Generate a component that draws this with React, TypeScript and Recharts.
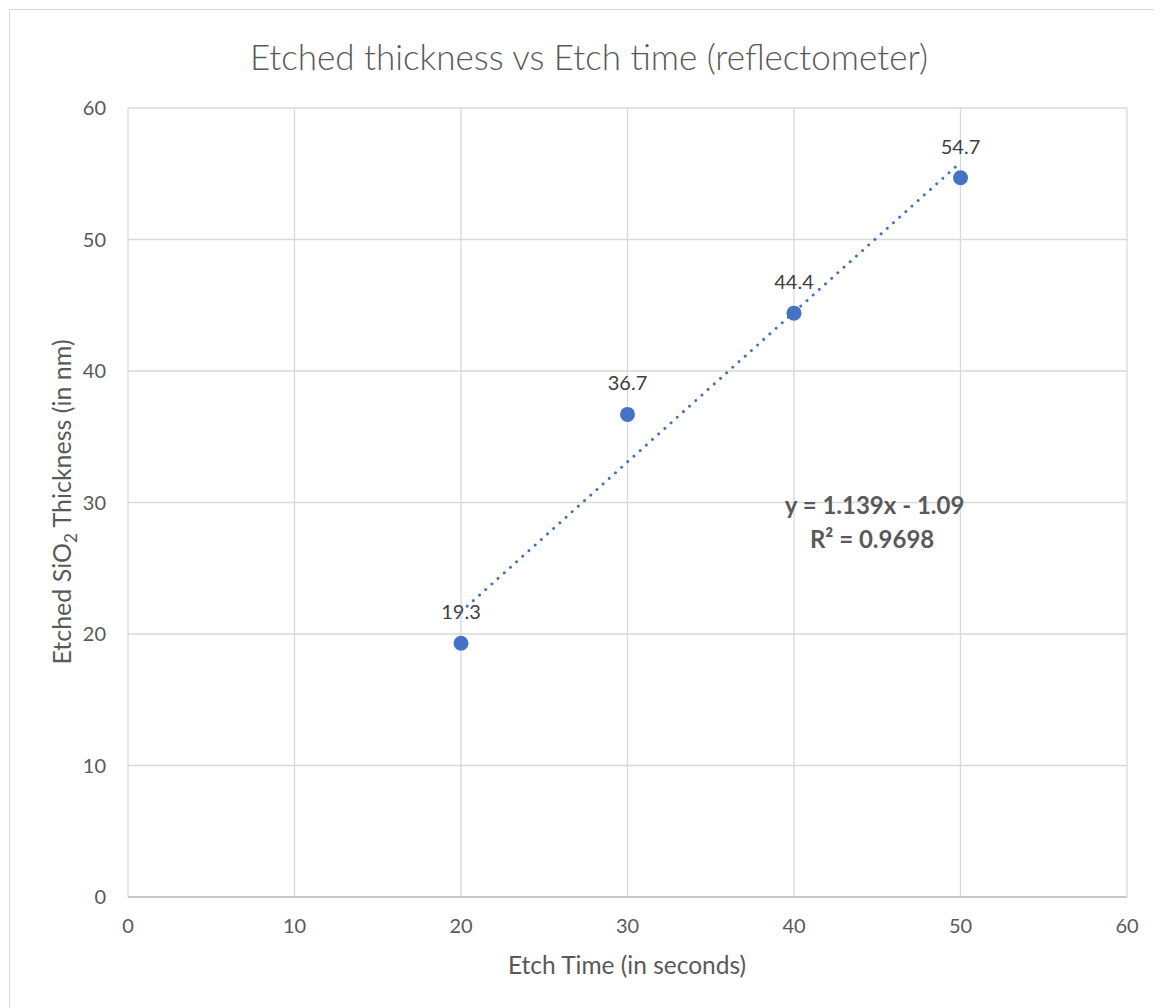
import React from "react"
import { ScatterChart, Scatter, XAxis, YAxis, CartesianGrid, ReferenceDot, Customized } from "recharts"

const etchTimes = [20, 30, 40, 50]
const thickness = [19.3, 36.7, 44.4, 54.7]
const axisTicks = [0, 10, 20, 30, 40, 50, 60]

// linear trendline as shown on the chart
const trendSlope = 1.139
const trendIntercept = -1.09
const trendR2 = 0.9698
const trendRange = [20, 50]
const equationAnchor = { x: 44.9, y: 28.5 }

const points = etchTimes.map((x, i) => ({ x, y: thickness[i] }))
const trendPoints = trendRange.map((x) => ({ x, y: trendSlope * x + trendIntercept }))

const FONT = "Lato, 'Open Sans', sans-serif"
const BLUE = "#4472C4"
const TEXT = "#595959"

const PointShape = (props: any) => {
  const { cx, cy, payload } = props
  return (
    <g>
      <circle cx={cx} cy={cy} r={7.5} fill={BLUE} />
      <text x={cx} y={cy - 24} textAnchor="middle" fontSize={20} fill="#404040" fontFamily={FONT}>
        {payload.y}
      </text>
    </g>
  )
}

const EquationLabel = (props: any) => {
  const { viewBox } = props
  const cx = viewBox.x + (viewBox.width || 0) / 2
  const cy = viewBox.y + (viewBox.height || 0) / 2
  return (
    <g fontFamily={FONT} fontWeight="bold" fontSize={24} fill={TEXT} textAnchor="middle">
      <text x={cx - 1} y={cy - 8}>
        {`y = ${trendSlope}x - ${Math.abs(trendIntercept)}`}
      </text>
      <text x={cx - 3.5} y={cy + 26}>
        {`R² = ${trendR2}`}
      </text>
    </g>
  )
}

const Titles = () => (
  <g fontFamily={FONT} fill={TEXT}>
    <text x={579} y={60} textAnchor="middle" fontSize={35} fontWeight={300}>
      Etched thickness vs Etch time (reflectometer)
    </text>
    <text x={617} y={964} textAnchor="middle" fontSize={24.5}>
      Etch Time (in seconds)
    </text>
    <text x={61} y={492} textAnchor="middle" fontSize={25} transform="rotate(-90 61 492)">
      Etched SiO<tspan fontSize={17} dy={6}>2</tspan>
      <tspan dy={-6}> Thickness (in nm)</tspan>
    </text>
  </g>
)

export default function App() {
  return (
    <div style={{ marginLeft: 1, marginTop: 1, width: 1160, height: 1000, border: "1px solid #d9d9d9", background: "#fff" }}>
      <ScatterChart width={1152} height={998} margin={{ top: 98, right: 35, left: 0, bottom: 0 }}>
        <CartesianGrid stroke="#d9d9d9" strokeWidth={1.3} />
        <XAxis
          type="number"
          dataKey="x"
          domain={[0, 60]}
          ticks={axisTicks}
          height={111}
          tickSize={0}
          tickMargin={22}
          axisLine={{ stroke: "#bfbfbf", strokeWidth: 1.5 }}
          tick={{ fill: TEXT, fontSize: 20, fontFamily: FONT }}
        />
        <YAxis
          type="number"
          dataKey="y"
          domain={[0, 60]}
          ticks={axisTicks}
          width={118}
          tickSize={0}
          tickMargin={22}
          axisLine={false}
          tick={{ fill: TEXT, fontSize: 20, fontFamily: FONT }}
        />
        <Scatter data={points} fill={BLUE} shape={PointShape} isAnimationActive={false} />
        <Scatter
          data={trendPoints}
          line={{ stroke: BLUE, strokeWidth: 3, strokeDasharray: "0.01 8.3", strokeLinecap: "round" }}
          shape={() => <g />}
          isAnimationActive={false}
        />
        <ReferenceDot
          x={equationAnchor.x}
          y={equationAnchor.y}
          r={0}
          fill="none"
          stroke="none"
          label={<EquationLabel />}
        />
        <Customized component={Titles} />
      </ScatterChart>
    </div>
  )
}
